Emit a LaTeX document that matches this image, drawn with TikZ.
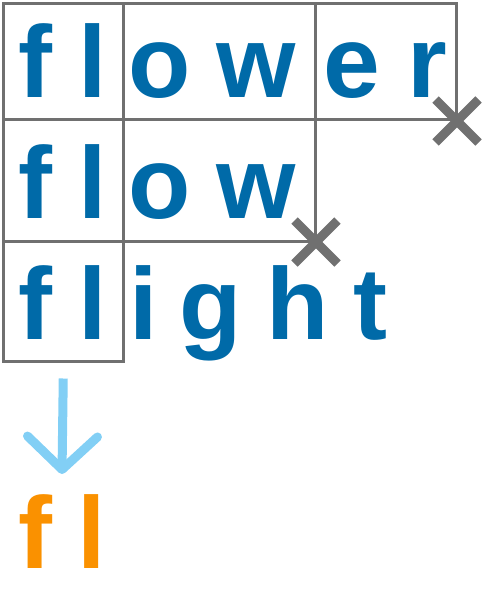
\documentclass[tikz,border=0pt]{standalone}
\usepackage{fontspec}
\setmainfont{Liberation Sans}
\usetikzlibrary{arrows.meta}
\definecolor{wordblue}{RGB}{0,106,168}
\definecolor{prefixorange}{RGB}{250,145,0}
\definecolor{arrowblue}{RGB}{130,207,245}
\definecolor{boxgray}{RGB}{112,112,112}
\begin{document}
\begin{tikzpicture}[x=1pt, y=-1pt,
	letter/.style={anchor=base, inner sep=0pt, text=wordblue, font=\fontsize{102}{102}\selectfont\bfseries},
	cell/.style={draw=boxgray, line width=2.5pt, anchor=north west, inner sep=0pt},
	cross/.style={draw=boxgray, line width=9pt},
	flowarrow/.style={draw=arrowblue, line width=9pt, -{Straight Barb[length=33pt, width=70pt, line cap=round, line join=round]}}]
	\useasboundingbox (0,0) rectangle (482,592);
	
	% 1. 单元格
	\node[cell, minimum width=120pt, minimum height=116pt] (c11) at (2,2) {};
	\node[cell, minimum width=192pt, minimum height=116pt] (c12) at (122,2) {};
	\node[cell, minimum width=141pt, minimum height=116pt] (c13) at (314,2) {};
	\node[cell, minimum width=120pt, minimum height=122pt] (c21) at (2,118) {};
	\node[cell, minimum width=192pt, minimum height=122pt] (c22) at (122,118) {};
	\node[cell, minimum width=120pt, minimum height=120pt] (c31) at (2,240) {};
	
	% 2. 单词 flower
	\node[letter] (r1f) at (35.5,97) {f};
	\node[letter] (r1l) at (92.5,97) {l};
	\node[letter] (r1o) at (160,97) {o};
	\node[letter] (r1w) at (256.5,97) {w};
	\node[letter] (r1e) at (351.5,97) {e};
	\node[letter] (r1r) at (427,97) {r};
	
	% 3. 单词 flow
	\node[letter] (r2f) at (35.5,218) {f};
	\node[letter] (r2l) at (92.5,218) {l};
	\node[letter] (r2o) at (160,218) {o};
	\node[letter] (r2w) at (256.5,218) {w};
	
	% 4. 单词 flight
	\node[letter] (r3f) at (35.5,339) {f};
	\node[letter] (r3l) at (92.5,339) {l};
	\node[letter] (r3i) at (143.5,339) {i};
	\node[letter] (r3g) at (211,339) {g};
	\node[letter] (r3h) at (297.5,339) {h};
	\node[letter] (r3t) at (370,339) {t};
	
	% 5. 叉号
	\draw[cross] (435.5,99.5) -- (478.5,142.5);
	\draw[cross] (435.5,142.5) -- (478.5,99.5);
	\draw[cross] (294.5,220.5) -- (337.5,263.5);
	\draw[cross] (294.5,263.5) -- (337.5,220.5);
	
	% 6. 箭头与公共前缀
	\node[letter, text=prefixorange] (pf) at (35,568) {f};
	\node[letter, text=prefixorange] (pl) at (92,568) {l};
	\coordinate (tip) at (62,474);
	\draw[flowarrow] ([yshift=-16pt]c31.south) -- (tip);
\end{tikzpicture}
\end{document}
